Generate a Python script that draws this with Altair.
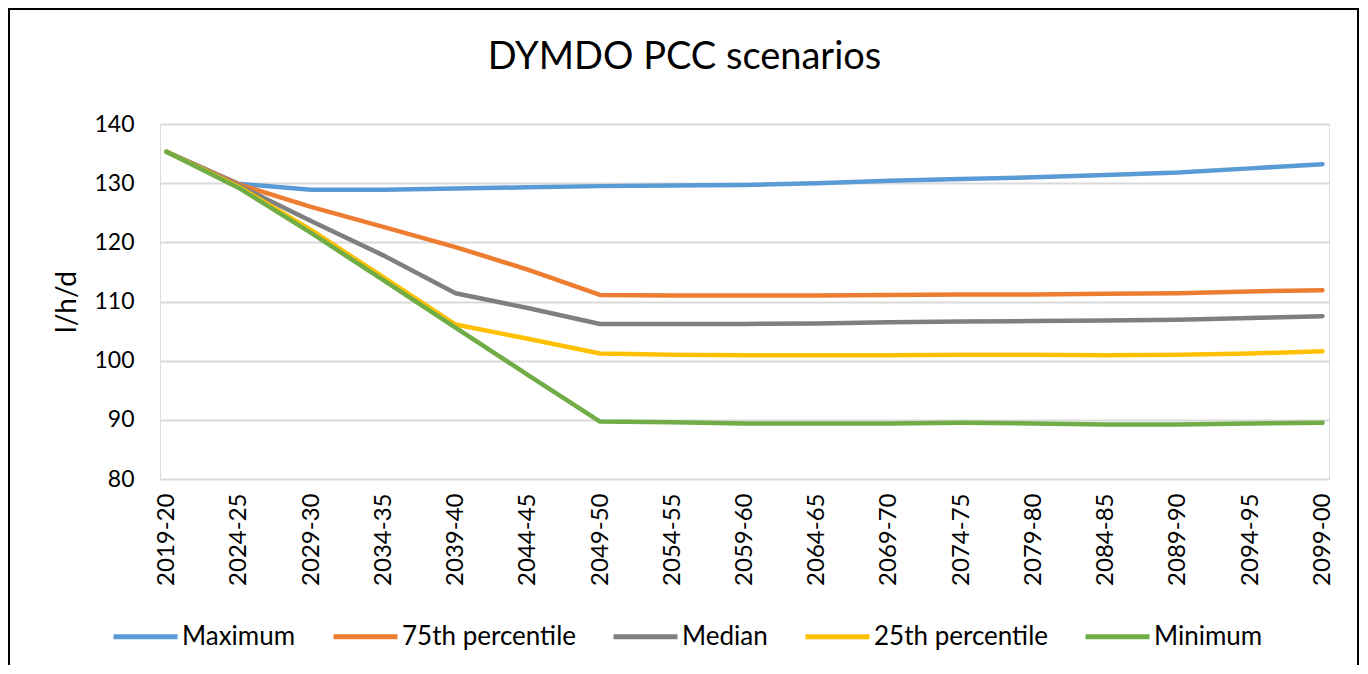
import altair as alt
import pandas as pd

categories = ["2019-20", "2024-25", "2029-30", "2034-35", "2039-40", "2044-45",
              "2049-50", "2054-55", "2059-60", "2064-65", "2069-70", "2074-75",
              "2079-80", "2084-85", "2089-90", "2094-95", "2099-00"]
series_names = ["Maximum", "75th percentile", "Median", "25th percentile", "Minimum"]
series_colors = ["#5B9BD5", "#ED7D31", "#7F7F7F", "#FFC000", "#70AD47"]

maximum = [135.3, 129.9, 128.9, 128.9, 129.1, 129.3, 129.5, 129.6, 129.7, 130.0,
           130.4, 130.7, 131.0, 131.4, 131.8, 132.5, 133.2]
p75 = [135.3, 129.8, 126.0, 122.6, 119.2, 115.4, 111.1, 111.0, 111.0, 111.0,
       111.1, 111.2, 111.2, 111.3, 111.4, 111.7, 111.9]
median = [135.3, 129.6, 123.6, 117.8, 111.4, 108.9, 106.2, 106.2, 106.2, 106.3,
          106.5, 106.6, 106.7, 106.8, 106.9, 107.2, 107.5]
p25 = [135.3, 129.4, 122.1, 114.1, 106.1, 103.7, 101.2, 101.0, 100.9, 100.9,
       100.9, 101.0, 101.0, 100.9, 101.0, 101.2, 101.6]
minimum = [135.3, 129.2, 121.6, 113.6, 105.6, 97.6, 89.7, 89.6, 89.4, 89.4,
           89.4, 89.5, 89.4, 89.2, 89.2, 89.4, 89.5]

all_values = [maximum, p75, median, p25, minimum]
rows = []
for si, (name, vals) in enumerate(zip(series_names, all_values)):
    for ci, (cat, v) in enumerate(zip(categories, vals)):
        rows.append({"period": cat, "value": v, "series": name, "order": si})
df = pd.DataFrame(rows)

FONT = "Lato"

lines = alt.Chart(df).mark_line(strokeWidth=4.5, strokeCap="round", strokeJoin="round").encode(
    x=alt.X("period:N", sort=categories,
            scale=alt.Scale(type="point", padding=0.09),
            axis=alt.Axis(title=None, labelAngle=-90, labelAlign="right", labelBaseline="middle",
                          labelPadding=14, labelFontSize=24, labelFont=FONT, labelColor="black",
                          ticks=False, domain=False, grid=False)),
    y=alt.Y("value:Q", scale=alt.Scale(domain=[80, 140], nice=False, zero=False),
            axis=alt.Axis(title="l/h/d", values=[80, 90, 100, 110, 120, 130, 140],
                          labelFontSize=23, labelFont=FONT, labelColor="black", labelPadding=26,
                          titleFontSize=28, titleFont=FONT, titleFontWeight="normal",
                          titleColor="black", titlePadding=12,
                          ticks=False, domain=False, grid=True, gridColor="#d9d9d9",
                          gridWidth=2)),
    color=alt.Color("series:N", sort=series_names,
                    scale=alt.Scale(domain=series_names, range=series_colors),
                    legend=alt.Legend(title=None, orient="none", direction="horizontal",
                                      legendX=-49, legendY=478, columns=5,
                                      symbolType="stroke", symbolSize=4096,
                                      symbolStrokeWidth=5, labelFontSize=26,
                                      labelFont=FONT, labelColor="black", labelOffset=2,
                                      labelLimit=400, columnPadding=27)),
    order=alt.Order("order:Q"),
    detail="series:N",
)

frame = alt.Chart(df).mark_rect(filled=False, stroke="black", strokeWidth=2).encode(
    x=alt.value(-151), x2=alt.value(1198), y=alt.value(-115), y2=alt.value(600)
)

chart = alt.layer(frame, lines).properties(
    width=1169, height=355,
    title=alt.TitleParams("DYMDO PCC scenarios", fontSize=38, font=FONT, fontWeight="normal",
                          color="black", anchor="middle", dx=-60, baseline="alphabetic",
                          offset=-99),
    autosize=alt.AutoSizeParams(type="none"),
    padding={"left": 152, "top": 116, "right": 30, "bottom": 186},
).configure_view(stroke="black", strokeWidth=2).configure(background="white")

chart.save("out.html", embed_options={"renderer": "svg", "actions": False})
